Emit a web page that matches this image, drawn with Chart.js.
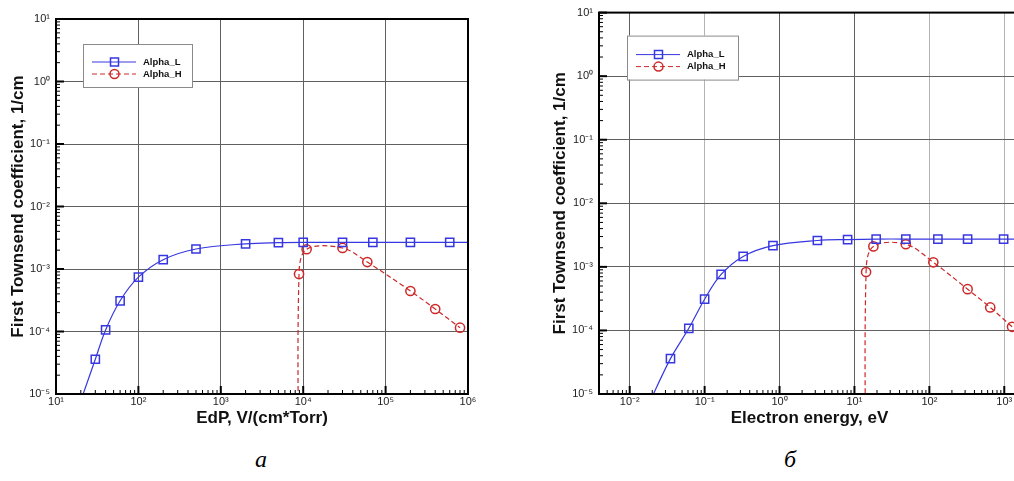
<!DOCTYPE html>
<html>
<head>
<meta charset="utf-8">
<script src="https://cdn.jsdelivr.net/npm/chart.js@4.4.1/dist/chart.umd.min.js"></script>
<style>
  body { margin: 0; width: 1014px; height: 481px; overflow: hidden; background: #fff; position: relative; }
  .box { position: absolute; top: 0; }
  .lab { position: absolute; font: italic 24px "Liberation Serif", "Times New Roman", serif; color: #000; }
</style>
</head>
<body>
<div class="box" style="left:0"><canvas id="chartA" width="500" height="440"></canvas></div>
<div class="box" style="left:542px"><canvas id="chartB" width="520" height="440"></canvas></div>
<div class="lab" style="left:255px;top:446px">а</div>
<div class="lab" style="left:784px;top:446px">б</div>
<script>
// panel a: alpha vs EdP
const edpL = [20, 30, 40, 60, 100, 200, 500, 2000, 5000, 1e4, 3e4, 7e4, 2e5, 6e5, 1.2e6];
const alphaL_edp = [7.8e-6, 3.6e-5, 1.06e-4, 3.1e-4, 7.4e-4, 1.41e-3, 2.09e-3, 2.53e-3, 2.64e-3, 2.67e-3, 2.67e-3, 2.67e-3, 2.67e-3, 2.67e-3, 2.67e-3];
const edpH = [8900, 8900, 1.1e4, 3e4, 6e4, 2e5, 4e5, 8e5];
const alphaH_edp = [1e-7, 8.3e-4, 2.07e-3, 2.17e-3, 1.29e-3, 4.45e-4, 2.29e-4, 1.15e-4];

// panel b: alpha vs electron energy
const enL = [0.018, 0.035, 0.0615, 0.1, 0.166, 0.327, 0.817, 3.2, 8.1, 19.5, 48.5, 130, 324, 980, 2000];
const alphaL_en = [7e-6, 3.6e-5, 1.08e-4, 3.1e-4, 7.6e-4, 1.46e-3, 2.16e-3, 2.6e-3, 2.69e-3, 2.74e-3, 2.74e-3, 2.74e-3, 2.74e-3, 2.74e-3, 2.74e-3];
const enH = [14.3, 14.3, 17.9, 48.5, 113, 324, 650, 1270];
const alphaH_en = [1e-7, 8.3e-4, 2.1e-3, 2.27e-3, 1.18e-3, 4.46e-4, 2.3e-4, 1.14e-4];

const seriesNames = ['Alpha_L', 'Alpha_H'];
const yTitle = 'First Townsend coefficient, 1/cm';

const sup = {'-': '⁻', '0': '⁰', '1': '¹', '2': '²', '3': '³', '4': '⁴', '5': '⁵', '6': '⁶', '7': '⁷', '8': '⁸', '9': '⁹'};
function isPow10(v) { const e = Math.log10(v); return Math.abs(e - Math.round(e)) < 1e-9; }
function powLabel(v) {
  if (!isPow10(v)) return '';
  return '10' + String(Math.round(Math.log10(v))).split('').map(c => sup[c]).join('');
}
function isDecadeTick(v) {
  const e = Math.floor(Math.log10(v) + 1e-9);
  const m = v / Math.pow(10, e);
  return Math.abs(m - Math.round(m)) < 1e-6 && Math.round(m) >= 1 && Math.round(m) <= 9;
}

const BLUE = 'rgb(55,55,225)';
const RED = 'rgb(205,40,40)';
const FONT = '"Liberation Sans", Arial, sans-serif';

// frame, inward ticks and the boxed legend
const tecplotFrame = {
  id: 'tecplotFrame',
  afterDatasetsDraw(chart, args, opts) {
    const {ctx, chartArea: a, scales: {x, y}} = chart;
    ctx.save();
    ctx.strokeStyle = '#000';
    x.ticks.forEach(t => {
      if (!isDecadeTick(t.value)) return;
      const px = x.getPixelForValue(t.value);
      if (px < a.left || px > a.right) return;
      const major = isPow10(t.value);
      ctx.lineWidth = major ? 2 : 1;
      ctx.beginPath();
      ctx.moveTo(px, a.bottom);
      ctx.lineTo(px, a.bottom - (major ? 8 : 4));
      ctx.stroke();
    });
    y.ticks.forEach(t => {
      if (!isDecadeTick(t.value)) return;
      const py = y.getPixelForValue(t.value);
      const major = isPow10(t.value);
      ctx.lineWidth = major ? 2 : 1;
      ctx.beginPath();
      ctx.moveTo(a.left, py);
      ctx.lineTo(a.left + (major ? 8 : 4), py);
      ctx.stroke();
    });
    ctx.lineWidth = 2;
    ctx.strokeRect(a.left, a.top, a.right - a.left, a.bottom - a.top);

    const lg = opts.legend;
    const lx = a.left + lg.x, ly = a.top + lg.y;
    ctx.fillStyle = '#fff';
    ctx.fillRect(lx, ly, lg.w, lg.h);
    ctx.strokeStyle = '#8a8a8a';
    ctx.lineWidth = 1;
    ctx.strokeRect(lx + 0.5, ly + 0.5, lg.w, lg.h);
    chart.data.datasets.forEach((ds, i) => {
      const yy = ly + lg.row0 + i * 12;
      ctx.strokeStyle = ds.borderColor;
      ctx.lineWidth = 1;
      ctx.setLineDash(ds.borderDash || []);
      ctx.beginPath();
      ctx.moveTo(lx + 9, yy);
      ctx.lineTo(lx + 53, yy);
      ctx.stroke();
      ctx.setLineDash([]);
      ctx.lineWidth = 1.5;
      ctx.strokeStyle = ds.pointBorderColor;
      ctx.beginPath();
      if (ds.pointStyle === 'rect') ctx.rect(lx + 27.5, yy - 4, 8, 8);
      else ctx.arc(lx + 31.5, yy, 4.5, 0, Math.PI * 2);
      ctx.stroke();
      ctx.fillStyle = '#111';
      ctx.font = 'bold 9.5px ' + FONT;
      ctx.textBaseline = 'middle';
      ctx.fillText(ds.label, lx + 60, yy);
    });
    ctx.restore();
  }
};

function makeChart(id, o) {
  const lData = o.xL.map((v, i) => ({x: v, y: o.yL[i]}));
  const hData = o.xH.map((v, i) => ({x: v, y: o.yH[i]}));
  const visible = c => c.raw.y >= o.ymin && c.raw.x <= o.xmax && c.raw.x >= o.xmin;
  return new Chart(document.getElementById(id), {
    type: 'line',
    data: {
      datasets: [{
        label: seriesNames[0],
        data: lData,
        borderColor: BLUE,
        borderWidth: 1.2,
        pointStyle: 'rect',
        pointBorderColor: BLUE,
        pointBackgroundColor: 'rgba(0,0,0,0)',
        pointBorderWidth: 1.5,
        pointRadius: c => visible(c) ? 5.8 : 0,
        tension: 0.35
      }, {
        label: seriesNames[1],
        data: hData,
        borderColor: RED,
        borderWidth: 1.2,
        borderDash: [5, 3],
        pointStyle: 'circle',
        pointBorderColor: RED,
        pointBackgroundColor: 'rgba(0,0,0,0)',
        pointBorderWidth: 1.5,
        pointRadius: c => visible(c) ? 4.6 : 0,
        tension: 0.35
      }]
    },
    options: {
      responsive: false,
      animation: false,
      layout: {padding: {top: o.top, right: o.right, left: 0, bottom: 0}},
      plugins: {
        legend: {display: false},
        tooltip: {enabled: false},
        tecplotFrame: {legend: o.legend}
      },
      scales: {
        x: {
          type: 'logarithmic',
          min: o.xmin,
          max: o.xmax,
          afterFit: s => { s.height = 46; },
          border: {display: false},
          grid: {
            drawTicks: false,
            lineWidth: 1,
            color: c => {
              const v = c.tick && c.tick.value;
              if (!v || !isPow10(v)) return 'rgba(0,0,0,0)';
              return o.lightX.includes(Math.round(Math.log10(v))) ? '#b4b4b4' : '#606060';
            }
          },
          ticks: {
            autoSkip: false, maxRotation: 0, minRotation: 0, padding: 1,
            color: '#222', font: {family: FONT, size: 11},
            callback: v => powLabel(v)
          },
          title: {
            display: true, text: o.xTitle, color: '#111',
            font: {family: FONT, size: 17, weight: 'bold'},
            padding: {top: 0, bottom: 11}
          }
        },
        y: {
          type: 'logarithmic',
          min: o.ymin,
          max: 10,
          afterFit: s => { s.width = o.yw; },
          border: {display: false},
          grid: {
            drawTicks: false,
            lineWidth: 1,
            color: c => (c.tick && isPow10(c.tick.value)) ? '#606060' : 'rgba(0,0,0,0)'
          },
          ticks: {
            autoSkip: false, padding: 6,
            color: '#222', font: {family: FONT, size: 11},
            callback: v => powLabel(v)
          },
          title: {
            display: true, text: yTitle, color: '#111',
            font: {family: FONT, size: 17, weight: 'bold'},
            padding: {top: 8, bottom: 0}
          }
        }
      }
    },
    plugins: [tecplotFrame]
  });
}

makeChart('chartA', {
  xL: edpL, yL: alphaL_edp, xH: edpH, yH: alphaH_edp,
  xmin: 10, xmax: 1e6, ymin: 1e-5,
  top: 19, right: 32, yw: 56,
  lightX: [],
  xTitle: 'EdP, V/(cm*Torr)',
  legend: {x: 27, y: 25, w: 109, h: 43, row0: 18}
});

makeChart('chartB', {
  xL: enL, yL: alphaL_en, xH: enH, yH: alphaH_en,
  xmin: Math.pow(10, -2.41), xmax: Math.pow(10, 3.21), ymin: 1e-5,
  top: 12, right: 42, yw: 57,
  lightX: [-1, 2, 3],
  xTitle: 'Electron energy, eV',
  legend: {x: 28, y: 23, w: 111, h: 44, row0: 19}
});
</script>
</body>
</html>
